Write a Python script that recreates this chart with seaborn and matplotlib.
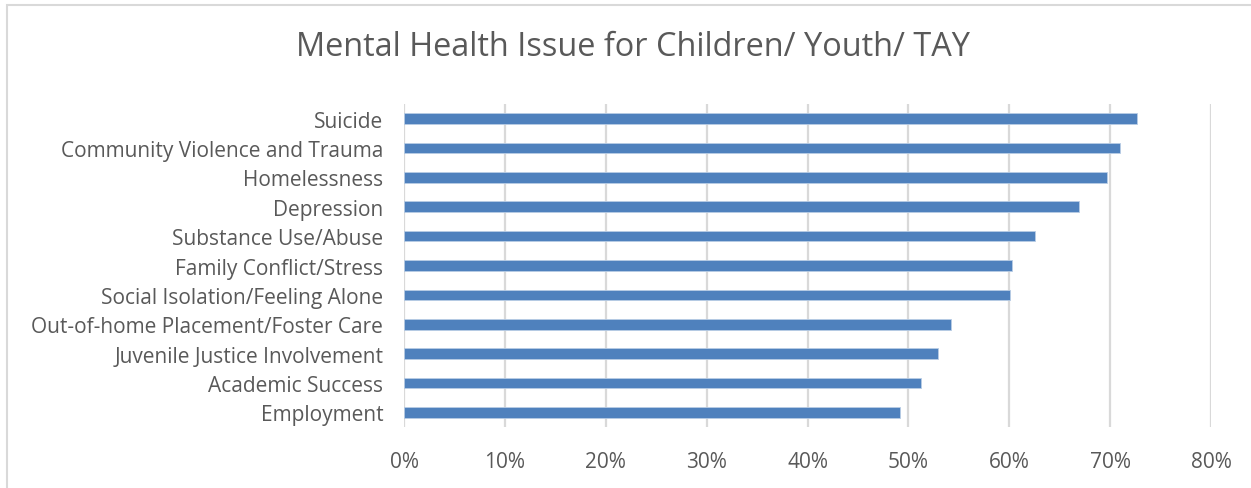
import matplotlib
matplotlib.use("Agg")
import matplotlib.pyplot as plt
import matplotlib.patches as mpatches
from matplotlib.ticker import PercentFormatter
import seaborn as sns
import pandas as pd

# Share of respondents naming each mental health issue
issues = [
    "Suicide",
    "Community Violence and Trauma",
    "Homelessness",
    "Depression",
    "Substance Use/Abuse",
    "Family Conflict/Stress",
    "Social Isolation/Feeling Alone",
    "Out-of-home Placement/Foster Care",
    "Juvenile Justice Involvement",
    "Academic Success",
    "Employment",
]
shares = [72.7, 71.0, 69.7, 66.9, 62.6, 60.3, 60.1, 54.2, 52.9, 51.3, 49.2]
x_ticks = [0, 10, 20, 30, 40, 50, 60, 70, 80]
title = "Mental Health Issue for Children/ Youth/ TAY"

df = pd.DataFrame({"issue": issues, "share": shares})

sns.set_theme(style="white")
plt.rcParams["font.family"] = ["Open Sans", "DejaVu Sans"]

text_color = "#595959"
grid_color = "#D9D9D9"
bar_color = "#4F81BD"

fig = plt.figure(figsize=(12.51, 4.89), dpi=100)
ax = fig.add_axes([404 / 1251, 1 - 428 / 489, (1211 - 404) / 1251, (428 - 105) / 489])

sns.barplot(data=df, x="share", y="issue", order=issues, color=bar_color,
            saturation=1, width=0.36, ax=ax, edgecolor="#B9CDE5", linewidth=0.6)

ax.set_xlim(0, 80)
ax.set_xticks(x_ticks)
ax.xaxis.set_major_formatter(PercentFormatter(decimals=0))
ax.grid(axis="x", color=grid_color, linewidth=1.6)
ax.set_axisbelow(True)
for side in ["top", "right", "bottom", "left"]:
    ax.spines[side].set_visible(False)
ax.set_xlabel("")
ax.set_ylabel("")
ax.tick_params(axis="both", length=0, labelsize=15, colors=text_color)
ax.tick_params(axis="y", pad=15)
ax.tick_params(axis="x", pad=17)

fig.text(633 / 1251, 1 - 48 / 489, title, ha="center", va="center",
         fontsize=23.4, color=text_color)

# Light chart-area frame (open at right and bottom)
fig.add_artist(mpatches.Rectangle((7 / 1251, -0.05), 1.1, 1 - 6 / 489 + 0.05,
                                  transform=fig.transFigure, fill=False,
                                  edgecolor=grid_color, linewidth=1.5))

fig.savefig("out.png", dpi=100, facecolor="white")
